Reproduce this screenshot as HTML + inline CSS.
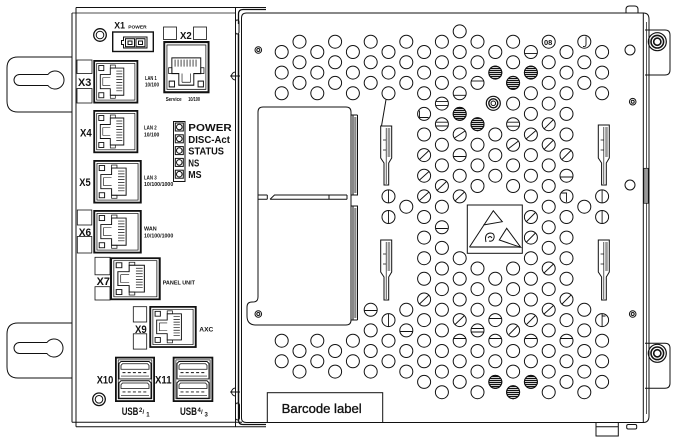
<!DOCTYPE html>
<html><head><meta charset="utf-8">
<style>html,body{margin:0;padding:0;background:#fff;}svg{display:block}</style>
</head><body>
<svg xmlns="http://www.w3.org/2000/svg" width="682" height="446" viewBox="0 0 682 446" font-family="Liberation Sans, Arial, sans-serif">
<defs>
<pattern id="st" width="4" height="2" patternUnits="userSpaceOnUse"><rect width="4" height="1.2" fill="#111"/></pattern>
<g id="jk" fill="none" stroke="#111">
<rect x="0.9" y="0.9" width="43.2" height="41.4" stroke-width="1.8"/>
<rect x="3.4" y="3.4" width="38.2" height="36.4" stroke-width="0.7"/>
<rect x="5.5" y="5.5" width="5" height="5" stroke-width="0.9"/>
<rect x="5.5" y="32.5" width="5" height="5" stroke-width="0.9"/>
<path d="M7,14.5 H17 V8 H30.5 V35 H17 V28.5 H7 Z" stroke-width="0.9"/>
<path d="M9.5,17.5 H17 M9.5,25.5 H17 M9.5,17.5 V25.5" stroke-width="0.6"/>
<rect x="17" y="5" width="5" height="3" stroke-width="0.7"/>
<rect x="17" y="35" width="5" height="3" stroke-width="0.7"/>
<path d="M23,11 H29 M23,13.8 H29 M23,16.6 H29 M23,19.4 H29 M23,22.2 H29 M23,25 H29 M23,27.8 H29 M23,30.6 H29" stroke-width="0.7"/>
</g>
<g id="usb" fill="none" stroke="#111">
<path d="M2.5,0.5 H30.5 L32.5,2.5 V18.5 H0.5 V2.5 Z" stroke-width="1"/>
<path d="M4,2.8 H29 L30.5,4.5 V8.5 H2.5 V4.5 Z" stroke-width="0.8"/>
<path d="M4,12 H29.5" stroke-width="1" stroke-dasharray="3 2.2"/>
<path d="M2.5,15.5 H30.5" stroke-width="0.6"/>
</g>
</defs>

<g fill="none" stroke="#111" stroke-width="1">
<path d="M72,57 H18 Q7,57 7,68 V101 Q7,112 18,112 H72"/>
<path d="M47.9,74.5 A9,9 0 1 1 47.9,85.5 H19.5 A5.5,5.5 0 0 1 19.5,74.5 Z"/>
<path d="M72,323 H18 Q7,323 7,334 V367 Q7,378 18,378 H72"/>
<path d="M46.9,342.5 A9,9 0 1 1 46.9,353.5 H19.5 A5.5,5.5 0 0 1 19.5,342.5 Z"/>

<path d="M76,7.5 H266"/>
<path d="M72,13 H236" stroke-width="0.8"/>
<path d="M72,13 V422.3"/>
<path d="M76,7.5 V426.7"/>
<path d="M72,422.3 H242"/>
<path d="M76,426.7 H266"/>
<path d="M235.5,7.5 V426.7"/>
<path d="M238.5,24 V14 Q238.5,9.5 243,9.5 H266" stroke-width="1.3"/>
<path d="M238.5,34 V405" stroke-width="1.5"/>
<path d="M238.5,405 V420 Q238.5,424.5 243,424.5 H266" stroke-width="1.3"/>
<rect x="235.5" y="20" width="3.5" height="14" rx="1.7"/>
<rect x="235.5" y="403" width="4" height="17" rx="2"/>
<path d="M235.5,72 A4,4 0 0 0 235.5,80 M230,76 H240"/>
<path d="M235.5,388 A4,4 0 0 0 235.5,396 M230,392 H240"/>

<path d="M241.5,418 V18 Q241.5,13 246.5,13 H643.3 V422.5 H246.5 Q241.5,422.5 241.5,418"/>
<path d="M643.3,13 Q649,13 649,19 V416 Q649,422.5 643.3,422.5"/>
<path d="M646.5,22 V414" stroke-width="0.7"/>
<rect x="643.8" y="168.3" width="4.5" height="35" fill="#999" stroke-width="0.7"/>
<path d="M626,13 V9.5 Q626,6 629.5,6 H634.5 Q638,6 638,9.5 V13"/>
<path d="M596,422.5 V436 H618.3 V422.5 M596,426.7 H618.3"/>
<rect x="626.7" y="424.5" width="10" height="4.5" rx="1.5"/>

<path d="M645,30 H665 Q670,30 670,35 V70 Q670,75 665,75 H645"/>
<circle cx="657.3" cy="41.7" r="9" stroke-width="1.2"/>
<circle cx="657.3" cy="41.7" r="6.3" stroke-width="1.6"/>
<circle cx="657.3" cy="41.7" r="3.6" stroke-width="1.6"/>
<path d="M645,343.3 H665 Q670,343.3 670,348.3 V383.3 Q670,388.3 665,388.3 H645"/>
<circle cx="657.3" cy="353.3" r="9" stroke-width="1.2"/>
<circle cx="657.3" cy="353.3" r="6.3" stroke-width="1.6"/>
<circle cx="657.3" cy="353.3" r="3.6" stroke-width="1.6"/>

<circle cx="258.3" cy="50" r="3.3"/><circle cx="258.3" cy="50" r="1.5"/>
<circle cx="258.3" cy="314" r="3.3"/><circle cx="258.3" cy="314" r="1.5"/>
<circle cx="630" cy="50" r="5"/>
<circle cx="630" cy="185" r="5"/>
<circle cx="632.7" cy="101.7" r="3.3"/><circle cx="632.7" cy="101.7" r="1.5"/>
<circle cx="632.7" cy="314" r="3.3"/><circle cx="632.7" cy="314" r="1.5"/>
<circle cx="493.3" cy="103.3" r="7" stroke-width="1.2"/>
<circle cx="493.3" cy="103.3" r="4.5" stroke-width="1.4"/>
<circle cx="493.3" cy="103.3" r="2.3"/>

<path d="M258,112 V297 Q258,302 253,302 H252 Q247,302 247,307 V316 Q247,325 256,325 H346 Q351,325 351,320 V112 Q351,107 346,107 H263 Q258,107 258,112 Z"/>
<path d="M258,195 H267.3 M258,199.3 H267.3 M267.3,195 V199.3 M270,199.3 L274.5,195 H347 M270,199.3 H347 M329,195 V199.3 M347,195 V199.3"/>
<path d="M353,115 V195 M357.5,115 V195 M353,206 V320 M357.5,206 V320 M351,195 H358 M351,206 H358 M351,115 H357.5 M351,320 H357.5"/>
<rect x="354.2" y="117" width="2.2" height="76" fill="#888" stroke="none"/>
<rect x="354.2" y="208" width="2.2" height="110" fill="#888" stroke="none"/>

<path d="M386,99.7 L381.5,126"/>
<path d="M380.7,126 H391.7 V158 L388.7,163 V185 H384 V163 L380.7,158 Z"/>
<rect x="387.6" y="128" width="2.6" height="29" fill="#999" stroke="none"/>
<path d="M386.2,128 V184 M383,140 H386 M383,150 H386" stroke-width="0.7"/>
<path d="M380.7,240 H391.7 V272 L388.7,277 V300 H384 V277 L380.7,272 Z"/>
<rect x="387.6" y="242" width="2.6" height="29" fill="#999" stroke="none"/>
<path d="M386.2,242 V299 M383,254 H386 M383,264 H386" stroke-width="0.7"/>
<path d="M598.3,125 H609.3 V158 L606.3,163 V185 H601.6 V163 L598.3,158 Z"/>
<rect x="605.2" y="127" width="2.6" height="30" fill="#999" stroke="none"/>
<path d="M603.8,127 V184 M600.6,140 H603.6 M600.6,150 H603.6" stroke-width="0.7"/>
<path d="M598.3,240 H609.3 V272 L606.3,277 V300 H601.6 V277 L598.3,272 Z"/>
<rect x="605.2" y="242" width="2.6" height="29" fill="#999" stroke="none"/>
<path d="M603.8,242 V299 M600.6,254 H603.6 M600.6,264 H603.6" stroke-width="0.7"/>

<rect x="467.3" y="205" width="55" height="48.3"/>
<rect x="469.5" y="246" width="50.5" height="2" fill="#777" stroke="none"/>
<path d="M469.5,247 L493.3,210.7 L502.3,221.7 L483.3,225 M499.3,240 L506.7,228.3 L520.7,247.3 Z M486,242 Q484,234 490,233 Q495,233 494,238 Q493,242 489,241 M488,238 Q490,235 492,238"/>

<rect x="267.3" y="392.7" width="115.4" height="29.8"/>
</g>

<g fill="none" stroke="#111" stroke-width="1">
<circle cx="281.7" cy="52.0" r="6.5"/><circle cx="281.7" cy="72.6" r="6.5"/><circle cx="281.7" cy="93.3" r="6.5"/><circle cx="281.7" cy="340.7" r="6.5"/><circle cx="281.7" cy="361.3" r="6.5"/>
<circle cx="299.5" cy="41.7" r="6.5"/><circle cx="299.5" cy="62.3" r="6.5"/><circle cx="299.5" cy="82.9" r="6.5"/><circle cx="299.5" cy="351.0" r="6.5"/><circle cx="299.5" cy="371.6" r="6.5"/>
<circle cx="317.3" cy="52.0" r="6.5"/><circle cx="317.3" cy="72.6" r="6.5"/><circle cx="317.3" cy="93.3" r="6.5"/><circle cx="317.3" cy="340.7" r="6.5"/><circle cx="317.3" cy="361.3" r="6.5"/>
<circle cx="335.1" cy="41.7" r="6.5"/><circle cx="335.1" cy="62.3" r="6.5"/><circle cx="335.1" cy="82.9" r="6.5"/><circle cx="335.1" cy="351.0" r="6.5"/><circle cx="335.1" cy="371.6" r="6.5"/>
<circle cx="352.9" cy="52.0" r="6.5"/><circle cx="352.9" cy="72.6" r="6.5"/><circle cx="352.9" cy="93.3" r="6.5"/><circle cx="352.9" cy="340.7" r="6.5"/><circle cx="352.9" cy="361.3" r="6.5"/>
<circle cx="370.7" cy="41.7" r="6.5"/><circle cx="370.7" cy="62.3" r="6.5"/><circle cx="370.7" cy="82.9" r="6.5"/><circle cx="370.7" cy="309.8" r="6.5"/><circle cx="370.7" cy="330.4" r="6.5"/><circle cx="370.7" cy="351.0" r="6.5"/><circle cx="370.7" cy="371.6" r="6.5"/>
<circle cx="388.5" cy="52.0" r="6.5"/><circle cx="388.5" cy="72.6" r="6.5"/><circle cx="388.5" cy="93.3" r="6.5"/><circle cx="388.5" cy="196.4" r="6.5"/><circle cx="388.5" cy="217.0" r="6.5"/><circle cx="388.5" cy="320.1" r="6.5"/><circle cx="388.5" cy="340.7" r="6.5"/><circle cx="388.5" cy="361.3" r="6.5"/>
<circle cx="406.3" cy="41.7" r="6.5"/><circle cx="406.3" cy="62.3" r="6.5"/><circle cx="406.3" cy="82.9" r="6.5"/><circle cx="406.3" cy="206.7" r="6.5"/><circle cx="406.3" cy="309.8" r="6.5"/><circle cx="406.3" cy="330.4" r="6.5"/><circle cx="406.3" cy="351.0" r="6.5"/><circle cx="406.3" cy="371.6" r="6.5"/>
<circle cx="424.1" cy="52.0" r="6.5"/><circle cx="424.1" cy="72.6" r="6.5"/><circle cx="424.1" cy="93.3" r="6.5"/><circle cx="424.1" cy="113.9" r="6.5"/><circle cx="424.1" cy="134.5" r="6.5"/><circle cx="424.1" cy="155.1" r="6.5"/><circle cx="424.1" cy="175.7" r="6.5"/><circle cx="424.1" cy="196.4" r="6.5"/><circle cx="424.1" cy="217.0" r="6.5"/><circle cx="424.1" cy="237.6" r="6.5"/><circle cx="424.1" cy="258.2" r="6.5"/><circle cx="424.1" cy="278.8" r="6.5"/><circle cx="424.1" cy="299.5" r="6.5"/><circle cx="424.1" cy="320.1" r="6.5"/><circle cx="424.1" cy="340.7" r="6.5"/><circle cx="424.1" cy="361.3" r="6.5"/><circle cx="424.1" cy="381.9" r="6.5"/>
<circle cx="441.9" cy="41.7" r="6.5"/><circle cx="441.9" cy="62.3" r="6.5"/><circle cx="441.9" cy="82.9" r="6.5"/><circle cx="441.9" cy="103.6" r="6.5"/><circle cx="441.9" cy="124.2" r="6.5"/><circle cx="441.9" cy="144.8" r="6.5"/><circle cx="441.9" cy="165.4" r="6.5"/><circle cx="441.9" cy="186.0" r="6.5"/><circle cx="441.9" cy="206.7" r="6.5"/><circle cx="441.9" cy="227.3" r="6.5"/><circle cx="441.9" cy="247.9" r="6.5"/><circle cx="441.9" cy="268.5" r="6.5"/><circle cx="441.9" cy="289.1" r="6.5"/><circle cx="441.9" cy="309.8" r="6.5"/><circle cx="441.9" cy="330.4" r="6.5"/><circle cx="441.9" cy="351.0" r="6.5"/><circle cx="441.9" cy="371.6" r="6.5"/><circle cx="441.9" cy="392.2" r="6.5"/>
<circle cx="459.7" cy="31.4" r="6.5"/><circle cx="459.7" cy="52.0" r="6.5"/><circle cx="459.7" cy="72.6" r="6.5"/><circle cx="459.7" cy="93.3" r="6.5"/><circle cx="459.7" cy="113.9" r="6.5"/><circle cx="459.7" cy="134.5" r="6.5"/><circle cx="459.7" cy="155.1" r="6.5"/><circle cx="459.7" cy="175.7" r="6.5"/><circle cx="459.7" cy="196.4" r="6.5"/><circle cx="459.7" cy="258.2" r="6.5"/><circle cx="459.7" cy="278.8" r="6.5"/><circle cx="459.7" cy="299.5" r="6.5"/><circle cx="459.7" cy="320.1" r="6.5"/><circle cx="459.7" cy="340.7" r="6.5"/><circle cx="459.7" cy="361.3" r="6.5"/><circle cx="459.7" cy="381.9" r="6.5"/>
<circle cx="477.5" cy="41.7" r="6.5"/><circle cx="477.5" cy="62.3" r="6.5"/><circle cx="477.5" cy="82.9" r="6.5"/><circle cx="477.5" cy="124.2" r="6.5"/><circle cx="477.5" cy="144.8" r="6.5"/><circle cx="477.5" cy="165.4" r="6.5"/><circle cx="477.5" cy="186.0" r="6.5"/><circle cx="477.5" cy="268.5" r="6.5"/><circle cx="477.5" cy="289.1" r="6.5"/><circle cx="477.5" cy="309.8" r="6.5"/><circle cx="477.5" cy="330.4" r="6.5"/><circle cx="477.5" cy="351.0" r="6.5"/><circle cx="477.5" cy="371.6" r="6.5"/><circle cx="477.5" cy="392.2" r="6.5"/>
<circle cx="495.3" cy="52.0" r="6.5"/><circle cx="495.3" cy="72.6" r="6.5"/><circle cx="495.3" cy="134.5" r="6.5"/><circle cx="495.3" cy="155.1" r="6.5"/><circle cx="495.3" cy="175.7" r="6.5"/><circle cx="495.3" cy="278.8" r="6.5"/><circle cx="495.3" cy="299.5" r="6.5"/><circle cx="495.3" cy="320.1" r="6.5"/><circle cx="495.3" cy="340.7" r="6.5"/><circle cx="495.3" cy="361.3" r="6.5"/><circle cx="495.3" cy="381.9" r="6.5"/>
<circle cx="513.1" cy="41.7" r="6.5"/><circle cx="513.1" cy="62.3" r="6.5"/><circle cx="513.1" cy="82.9" r="6.5"/><circle cx="513.1" cy="103.6" r="6.5"/><circle cx="513.1" cy="124.2" r="6.5"/><circle cx="513.1" cy="144.8" r="6.5"/><circle cx="513.1" cy="165.4" r="6.5"/><circle cx="513.1" cy="186.0" r="6.5"/><circle cx="513.1" cy="268.5" r="6.5"/><circle cx="513.1" cy="289.1" r="6.5"/><circle cx="513.1" cy="309.8" r="6.5"/><circle cx="513.1" cy="330.4" r="6.5"/><circle cx="513.1" cy="351.0" r="6.5"/><circle cx="513.1" cy="371.6" r="6.5"/><circle cx="513.1" cy="392.2" r="6.5"/>
<circle cx="530.9" cy="52.0" r="6.5"/><circle cx="530.9" cy="72.6" r="6.5"/><circle cx="530.9" cy="93.3" r="6.5"/><circle cx="530.9" cy="113.9" r="6.5"/><circle cx="530.9" cy="134.5" r="6.5"/><circle cx="530.9" cy="155.1" r="6.5"/><circle cx="530.9" cy="175.7" r="6.5"/><circle cx="530.9" cy="196.4" r="6.5"/><circle cx="530.9" cy="217.0" r="6.5"/><circle cx="530.9" cy="237.6" r="6.5"/><circle cx="530.9" cy="258.2" r="6.5"/><circle cx="530.9" cy="278.8" r="6.5"/><circle cx="530.9" cy="299.5" r="6.5"/><circle cx="530.9" cy="320.1" r="6.5"/><circle cx="530.9" cy="340.7" r="6.5"/><circle cx="530.9" cy="361.3" r="6.5"/><circle cx="530.9" cy="381.9" r="6.5"/>
<circle cx="548.7" cy="41.7" r="6.5"/><circle cx="548.7" cy="62.3" r="6.5"/><circle cx="548.7" cy="82.9" r="6.5"/><circle cx="548.7" cy="103.6" r="6.5"/><circle cx="548.7" cy="124.2" r="6.5"/><circle cx="548.7" cy="144.8" r="6.5"/><circle cx="548.7" cy="165.4" r="6.5"/><circle cx="548.7" cy="186.0" r="6.5"/><circle cx="548.7" cy="206.7" r="6.5"/><circle cx="548.7" cy="227.3" r="6.5"/><circle cx="548.7" cy="247.9" r="6.5"/><circle cx="548.7" cy="268.5" r="6.5"/><circle cx="548.7" cy="289.1" r="6.5"/><circle cx="548.7" cy="309.8" r="6.5"/><circle cx="548.7" cy="330.4" r="6.5"/><circle cx="548.7" cy="351.0" r="6.5"/><circle cx="548.7" cy="371.6" r="6.5"/><circle cx="548.7" cy="392.2" r="6.5"/>
<circle cx="566.5" cy="52.0" r="6.5"/><circle cx="566.5" cy="72.6" r="6.5"/><circle cx="566.5" cy="93.3" r="6.5"/><circle cx="566.5" cy="113.9" r="6.5"/><circle cx="566.5" cy="134.5" r="6.5"/><circle cx="566.5" cy="155.1" r="6.5"/><circle cx="566.5" cy="175.7" r="6.5"/><circle cx="566.5" cy="196.4" r="6.5"/><circle cx="566.5" cy="217.0" r="6.5"/><circle cx="566.5" cy="237.6" r="6.5"/><circle cx="566.5" cy="258.2" r="6.5"/><circle cx="566.5" cy="278.8" r="6.5"/><circle cx="566.5" cy="299.5" r="6.5"/><circle cx="566.5" cy="320.1" r="6.5"/><circle cx="566.5" cy="340.7" r="6.5"/><circle cx="566.5" cy="361.3" r="6.5"/><circle cx="566.5" cy="381.9" r="6.5"/>
<circle cx="584.3" cy="41.7" r="6.5"/><circle cx="584.3" cy="62.3" r="6.5"/><circle cx="584.3" cy="82.9" r="6.5"/><circle cx="584.3" cy="206.7" r="6.5"/><circle cx="584.3" cy="309.8" r="6.5"/><circle cx="584.3" cy="330.4" r="6.5"/><circle cx="584.3" cy="351.0" r="6.5"/><circle cx="584.3" cy="371.6" r="6.5"/><circle cx="584.3" cy="392.2" r="6.5"/>
<circle cx="602.1" cy="52.0" r="6.5"/><circle cx="602.1" cy="72.6" r="6.5"/><circle cx="602.1" cy="93.3" r="6.5"/><circle cx="602.1" cy="196.4" r="6.5"/><circle cx="602.1" cy="217.0" r="6.5"/><circle cx="602.1" cy="320.1" r="6.5"/><circle cx="602.1" cy="340.7" r="6.5"/><circle cx="602.1" cy="361.3" r="6.5"/><circle cx="602.1" cy="381.9" r="6.5"/>
</g>
<g fill="url(#st)" stroke="#111" stroke-width="1">
<circle cx="459.7" cy="113.9" r="6.5"/><circle cx="477.5" cy="124.2" r="6.5"/><circle cx="495.3" cy="72.6" r="6.5"/><circle cx="513.1" cy="82.9" r="6.5"/><circle cx="530.9" cy="72.6" r="6.5"/>
<circle cx="495.3" cy="381.9" r="6.5"/><circle cx="513.1" cy="392.2" r="6.5"/><circle cx="530.9" cy="381.9" r="6.5"/>
</g>
<g fill="none" stroke="#111" stroke-width="0.9">
<path d="M419.5,110.5 V117.5 H428.5"/>
<path d="M435.8,101.6 H448 M435.6,105.4 H448.2"/>
<path d="M435.8,122.2 H448 M435.6,126 H448.2"/>
<path d="M453.6,95.3 H465.8"/>
<path d="M454.5,138 L465,131"/>
<path d="M471.3,81 H483.7"/>
<path d="M507,122.2 H519.2 M507,126.2 H519.2"/>
<path d="M508,149 L518.5,141"/>
<path d="M524.7,53.5 H537.1"/>
<path d="M526,139 L536,130.5"/>
<path d="M544,129 L553.5,119.5 M544,149.5 L553.5,140"/>
<path d="M419.5,159.5 L429,150.5 M419.5,180 L429,171.5 M419.5,200.5 L429,192"/>
<path d="M437,190.5 L446.5,181.5 M436,228.5 H447.8"/>
<path d="M453.6,156.5 H465.8 M455,201 L464.5,192"/>
<path d="M388.5,190 V202.8 M388.5,210.6 V223.4 M602.1,190 V202.8 M602.1,210.6 V223.4"/>
<path d="M562,159.5 L571,150.5 M560.3,177 H572.7 M561,193 H566.5 V202"/>
<path d="M526.5,221.5 L535.5,212.5 M526.5,242 L535.5,233 M544,273 L553.5,264"/>
<path d="M419.5,304 L429,295 M364.5,310.5 H376.9 M388.5,313.6 V326.6 M400.1,331.5 H412.5"/>
<path d="M455,324.5 L464.5,315.5 M471.5,328.5 H483.5 M471.5,332 H483.5 M489.2,318.5 H501.4 M509,334.5 L517.5,326 M526.5,324.5 L535.5,315.5 M544,314 L553.5,305.5 M562,304 L571,295"/>
<path d="M453.6,338.5 H465.8 M489.2,338.5 H501.4 M524.7,338.5 H537.1 M560.3,338.5 H572.7"/>
<path d="M602.1,314 V326 M602.1,316 H605.5"/>
<path d="M586,36.5 V44.5 Q586,47 583,46.5"/>
</g>
<text x="544" y="44.8" font-size="7.5" font-weight="bold" fill="#111">08</text>

<g fill="none" stroke="#111">
<circle cx="100" cy="35" r="6.3" stroke-width="1.3"/><circle cx="100" cy="35" r="3.8"/>
<circle cx="99" cy="399.3" r="6.3" stroke-width="1.3"/><circle cx="99" cy="399.3" r="3.8"/>
<rect x="112.7" y="32" width="40.6" height="19.5" stroke-width="1.4"/>
<path d="M123.5,37 H147 V48 H123.5 V44.5 H121.5 V40.5 H123.5 Z"/>
<rect x="125.5" y="38.7" width="9" height="8"/><rect x="136" y="38.7" width="9" height="8"/>
<rect x="128" y="41" width="4" height="3.5"/><rect x="138.5" y="41" width="4" height="3.5"/>
<rect x="163.5" y="27" width="13" height="12.5" stroke-width="0.8"/>
<rect x="193.5" y="27" width="13" height="12.5" stroke-width="0.8"/>
<rect x="77" y="60" width="15" height="13.5" stroke-width="0.8"/>
<rect x="77" y="88.5" width="15" height="14.5" stroke-width="0.8"/>
<rect x="77.3" y="210" width="14.5" height="15" stroke-width="0.8"/>
<rect x="77.3" y="236.5" width="14.5" height="16.5" stroke-width="0.8"/>
<rect x="95" y="257.3" width="15" height="17.5" stroke-width="0.8"/>
<rect x="95" y="286.7" width="15" height="13.3" stroke-width="0.8"/>
<rect x="133.3" y="306.7" width="13.4" height="15.3" stroke-width="0.8"/>
<rect x="133.3" y="333.8" width="13.4" height="15.3" stroke-width="0.8"/>
<rect x="173.5" y="121.5" width="11.5" height="60" stroke-width="1"/>
<rect x="175.3" y="123" width="8" height="8"/><circle cx="179.3" cy="127" r="2.8"/>
<rect x="175.3" y="134.8" width="8" height="8"/><circle cx="179.3" cy="138.8" r="2.8"/>
<rect x="175.3" y="146.6" width="8" height="8"/><circle cx="179.3" cy="150.6" r="2.8"/>
<rect x="175.3" y="158.4" width="8" height="8"/><circle cx="179.3" cy="162.4" r="2.8"/>
<rect x="175.3" y="170.2" width="8" height="8"/><circle cx="179.3" cy="174.2" r="2.8"/>
<rect x="115.9" y="357.6" width="38.2" height="43.5" stroke-width="1.8"/>
<rect x="118.2" y="359.9" width="33.6" height="38.9" stroke-width="0.7"/>
<rect x="173.6" y="357.6" width="38.8" height="43.5" stroke-width="1.8"/>
<rect x="175.9" y="359.9" width="34.2" height="38.9" stroke-width="0.7"/>
</g>
<use href="#jk" transform="translate(93.3,60) scale(1,1.007)"/>
<use href="#jk" transform="translate(93.3,110) scale(1,1.0)"/>
<use href="#jk" transform="translate(93.3,160) scale(1.076,1.007)"/>
<use href="#jk" transform="translate(93.3,210) scale(1.076,1.007)"/>
<use href="#jk" transform="translate(110,257.3) scale(1.127,0.993)"/>
<use href="#jk" transform="translate(149.3,306) scale(1.053,0.97)"/>
<use href="#jk" transform="translate(163.3,93.3) rotate(-90) scale(1.162,1.07)"/>
<use href="#usb" transform="translate(118.5,361) scale(1,0.97)"/>
<use href="#usb" transform="translate(118.5,380.3) scale(1,0.97)"/>
<use href="#usb" transform="translate(176.5,361) scale(1,0.97)"/>
<use href="#usb" transform="translate(176.5,380.3) scale(1,0.97)"/>

<g fill="#111" font-weight="bold">
<text x="114.3" y="28.5" font-size="9.5" textLength="10.7" lengthAdjust="spacingAndGlyphs">X1</text>
<text x="128.3" y="28.3" font-size="4.8" textLength="18.3" lengthAdjust="spacingAndGlyphs">POWER</text>
<text x="180" y="39" font-size="10" textLength="11.7" lengthAdjust="spacingAndGlyphs">X2</text>
<text x="165.7" y="101" font-size="5" textLength="16" lengthAdjust="spacingAndGlyphs">Service</text>
<text x="188.3" y="101" font-size="5" textLength="11.7" lengthAdjust="spacingAndGlyphs">10/100</text>
<text x="78" y="86" font-size="10.7" textLength="13.3" lengthAdjust="spacingAndGlyphs">X3</text>
<text x="145" y="80" font-size="5.5" textLength="11.7" lengthAdjust="spacingAndGlyphs">LAN 1</text>
<text x="145" y="86.7" font-size="5.5" textLength="14" lengthAdjust="spacingAndGlyphs">10/100</text>
<text x="80" y="136.7" font-size="10.7" textLength="11.7" lengthAdjust="spacingAndGlyphs">X4</text>
<text x="144" y="129.3" font-size="5.5" textLength="12.7" lengthAdjust="spacingAndGlyphs">LAN 2</text>
<text x="144" y="136.7" font-size="5.5" textLength="15.3" lengthAdjust="spacingAndGlyphs">10/100</text>
<text x="79.3" y="186" font-size="10.7" textLength="11.4" lengthAdjust="spacingAndGlyphs">X5</text>
<text x="144" y="179.3" font-size="5.5" textLength="12.7" lengthAdjust="spacingAndGlyphs">LAN 3</text>
<text x="144" y="186" font-size="5.5" textLength="29.3" lengthAdjust="spacingAndGlyphs">10/100/1000</text>
<text x="78.7" y="236" font-size="10.7" textLength="12.5" lengthAdjust="spacingAndGlyphs">X6</text>
<text x="144" y="230.7" font-size="5.5" textLength="12.7" lengthAdjust="spacingAndGlyphs">WAN</text>
<text x="144" y="237.3" font-size="5.5" textLength="29.3" lengthAdjust="spacingAndGlyphs">10/100/1000</text>
<text x="96.7" y="285" font-size="10.7" textLength="13.3" lengthAdjust="spacingAndGlyphs">X7</text>
<text x="162.7" y="284.5" font-size="5.5" textLength="32.3" lengthAdjust="spacingAndGlyphs">PANEL UNIT</text>
<text x="135" y="333" font-size="10.7" textLength="11.7" lengthAdjust="spacingAndGlyphs">X9</text>
<text x="199.3" y="331.5" font-size="6.5" textLength="14" lengthAdjust="spacingAndGlyphs">AXC</text>
<text x="96.7" y="383.3" font-size="10.7" textLength="16.6" lengthAdjust="spacingAndGlyphs">X10</text>
<text x="155" y="383.3" font-size="10.7" textLength="16.6" lengthAdjust="spacingAndGlyphs">X11</text>
<text x="121.7" y="415" font-size="10.7" textLength="16.7" lengthAdjust="spacingAndGlyphs">USB</text>
<text x="139" y="412" font-size="6">2</text>
<text x="142.5" y="414" font-size="6">/</text>
<text x="146.3" y="416.5" font-size="6">1</text>
<text x="180" y="415" font-size="10.7" textLength="17" lengthAdjust="spacingAndGlyphs">USB</text>
<text x="197.5" y="412" font-size="6">4</text>
<text x="201" y="414" font-size="6">/</text>
<text x="204.5" y="416.5" font-size="6">3</text>
<text x="188.3" y="131" font-size="10.5" textLength="43.4" lengthAdjust="spacingAndGlyphs">POWER</text>
<text x="188.3" y="142.8" font-size="10.5" textLength="41.7" lengthAdjust="spacingAndGlyphs">DISC-Act</text>
<text x="188.3" y="154.6" font-size="10.5" textLength="35.7" lengthAdjust="spacingAndGlyphs">STATUS</text>
<text x="188.3" y="166.4" font-size="10.5" textLength="11" lengthAdjust="spacingAndGlyphs">NS</text>
<text x="188.3" y="178.2" font-size="10.5" textLength="13.3" lengthAdjust="spacingAndGlyphs">MS</text>
</g>
<text x="281.7" y="413" font-size="13" fill="#111" stroke="#111" stroke-width="0.35" textLength="80" lengthAdjust="spacingAndGlyphs">Barcode label</text>
</svg>
</body></html>
